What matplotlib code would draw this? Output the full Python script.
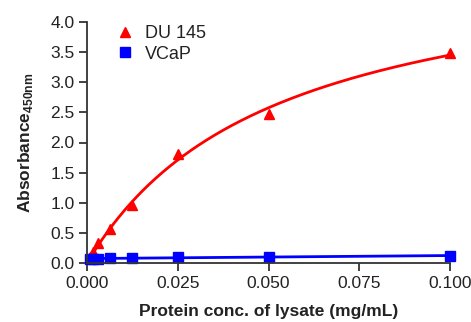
import numpy as np
import matplotlib.pyplot as plt

# 測定データ
conc = [0.1, 0.05, 0.025, 0.0125, 0.00625, 0.003125, 0.0015625, 0.00078125]
du145 = [3.49, 2.47, 1.81, 0.97, 0.57, 0.34, 0.19, 0.10]
vcap = [0.12, 0.10, 0.10, 0.08, 0.08, 0.07, 0.07, 0.07]

xticks = [0.000, 0.025, 0.050, 0.075, 0.100]
yticks = [0.0, 0.5, 1.0, 1.5, 2.0, 2.5, 3.0, 3.5, 4.0]

plt.rcParams["font.family"] = ["Liberation Sans", "DejaVu Sans"]

x = np.array(conc)
y1 = np.array(du145)
y2 = np.array(vcap)

# one-site binding fit (Bmax*x/(K+x))
best = None
for K in np.linspace(0.005, 0.3, 3000):
    g = x / (K + x)
    B = np.sum(y1 * g) / np.sum(g * g)
    err = np.sum((y1 - B * g) ** 2)
    if best is None or err < best[0]:
        best = (err, K, B)
_, K, B = best
xf = np.linspace(x[:-1].min(), x.max(), 300)
yf1 = B * xf / (K + xf)

p = np.polyfit(x, y2, 1)
xf2 = np.linspace(x.min(), x.max(), 50)
yf2 = np.polyval(p, xf2)

fig = plt.figure(figsize=(4.71, 3.22), dpi=100)
ax = fig.add_axes([87/471, 59/322, 363/471, 241/322])

ax.plot(xf, yf1, color="#ff0000", lw=2, clip_on=False)
ax.plot(xf2, yf2, color="#0000ff", lw=2, clip_on=False)
ax.plot(x, y1, "^", color="#ff0000", ms=7, clip_on=False, label="DU 145")
ax.plot(x, y2, "s", color="#0000ff", ms=7, clip_on=False, label="VCaP")

ax.set_xlim(0, 0.1)
ax.set_ylim(0, 4)
ax.set_xticks(xticks)
ax.set_yticks(yticks)
ax.set_xticklabels([f"{v:.3f}" for v in xticks])
ax.set_yticklabels([f"{v:.1f}" for v in yticks])

for s in ["top", "right"]:
    ax.spines[s].set_visible(False)
for s in ["left", "bottom"]:
    ax.spines[s].set_color("#333333")
    ax.spines[s].set_linewidth(1.3)
ax.tick_params(direction="out", length=6, width=1.3, colors="#333333",
               labelsize=12.5, labelcolor="#222222", pad=3)

ax.set_xlabel("Protein conc. of lysate (mg/mL)", fontsize=12.5,
              fontweight="bold", color="#222222", labelpad=10)
ax.set_ylabel(r"Absorbance$_{\mathregular{450nm}}$", fontsize=12.5,
              fontweight="bold", color="#222222", labelpad=11)

ax.legend(loc="upper left", bbox_to_anchor=(0.03, 1.055), frameon=False,
          fontsize=13, handletextpad=0.5, labelspacing=0.2,
          handlelength=1.2, labelcolor="#222222")

fig.savefig("out.png", dpi=100)
